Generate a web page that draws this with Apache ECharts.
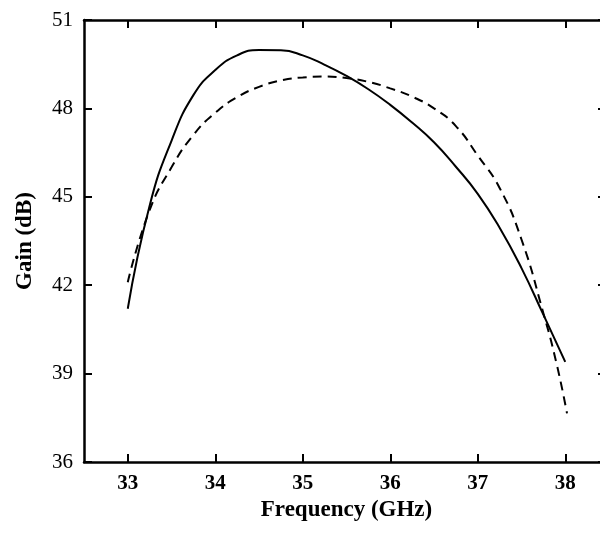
<!DOCTYPE html>
<html>
<head>
<meta charset="utf-8">
<script src="https://cdn.jsdelivr.net/npm/echarts@6/dist/echarts.min.js"></script>
<style>
  html, body { margin: 0; padding: 0; background: #fff; overflow: hidden; }
  /* the right frame of the original plot sits just past the 600px edge */
  #chart { width: 612px; height: 534px; }
</style>
</head>
<body>
<div id="chart"></div>
<script>
// frequency (GHz), gain (dB)
const solidFreq = [33.0, 33.25, 33.5, 33.75, 34.0, 34.25, 34.5, 34.75, 35.0, 35.25, 35.5, 35.75, 36.0, 36.25, 36.5, 36.75, 37.0, 37.25, 37.5, 37.75, 38.0]
const solidGain = [41.2, 44.7, 46.9, 48.45, 49.3, 49.8, 49.98, 49.97, 49.8, 49.48, 49.1, 48.65, 48.12, 47.52, 46.85, 46.02, 45.1, 43.95, 42.58, 41.0, 39.4]

const dashFreq = [33.0, 33.25, 33.5, 33.75, 34.0, 34.25, 34.5, 34.75, 35.0, 35.25, 35.5, 35.75, 36.0, 36.25, 36.5, 36.75, 37.0, 37.25, 37.5, 37.75, 37.9, 38.02]
const dashGain = [42.1, 44.55, 46.0, 47.1, 47.85, 48.38, 48.73, 48.95, 49.05, 49.08, 49.03, 48.9, 48.68, 48.4, 48.0, 47.4, 46.4, 45.3, 43.55, 41.05, 39.35, 37.65]

const xTicks = [33, 34, 35, 36, 37, 38]

const chart = echarts.init(document.getElementById('chart'))

const serif = '"Liberation Serif", "Times New Roman", serif'
const axisLine = { show: true, lineStyle: { color: '#000', width: 2.5 } }
const tick = { show: true, inside: true, length: 8, lineStyle: { color: '#000', width: 2 } }

const option = {
  backgroundColor: '#fff',
  animation: false,
  grid: { left: 84, top: 20, right: 3, bottom: 72 },
  xAxis: [
    {
      type: 'value', min: 32.5, max: 38.5,
      name: 'Frequency (GHz)', nameLocation: 'middle', nameGap: 30,
      nameTextStyle: { fontFamily: serif, fontWeight: 'bold', fontSize: 23, color: '#000' },
      axisLine: axisLine,
      axisTick: Object.assign({}, tick, { customValues: xTicks }),
      axisLabel: { customValues: xTicks, fontFamily: serif, fontWeight: 'bold', fontSize: 21, color: '#000', margin: 11 },
      splitLine: { show: false }
    },
    {
      type: 'value', min: 32.5, max: 38.5, position: 'top',
      axisLine: axisLine,
      axisTick: Object.assign({}, tick, { customValues: xTicks }),
      axisLabel: { show: false },
      splitLine: { show: false }
    }
  ],
  yAxis: [
    {
      type: 'value', min: 36, max: 51, interval: 3,
      name: 'Gain (dB)', nameLocation: 'middle', nameGap: 47,
      nameTextStyle: { fontFamily: serif, fontWeight: 'bold', fontSize: 23, color: '#000' },
      axisLine: axisLine,
      axisTick: tick,
      axisLabel: { fontFamily: serif, fontSize: 21, color: '#000', margin: 11 },
      splitLine: { show: false }
    },
    {
      type: 'value', min: 36, max: 51, interval: 3, position: 'right',
      axisLine: axisLine,
      axisTick: Object.assign({}, tick, { length: 11 }),
      axisLabel: { show: false },
      splitLine: { show: false }
    }
  ],
  series: [
    {
      type: 'line', smooth: 0.5, symbol: 'none',
      data: solidFreq.map((f, i) => [f, solidGain[i]]),
      lineStyle: { color: '#000', width: 2 }
    },
    {
      type: 'line', smooth: 0.5, symbol: 'none',
      data: dashFreq.map((f, i) => [f, dashGain[i]]),
      lineStyle: { color: '#000', width: 2, type: [9, 6] }
    }
  ]
}

chart.setOption(option)
</script>
</body>
</html>
